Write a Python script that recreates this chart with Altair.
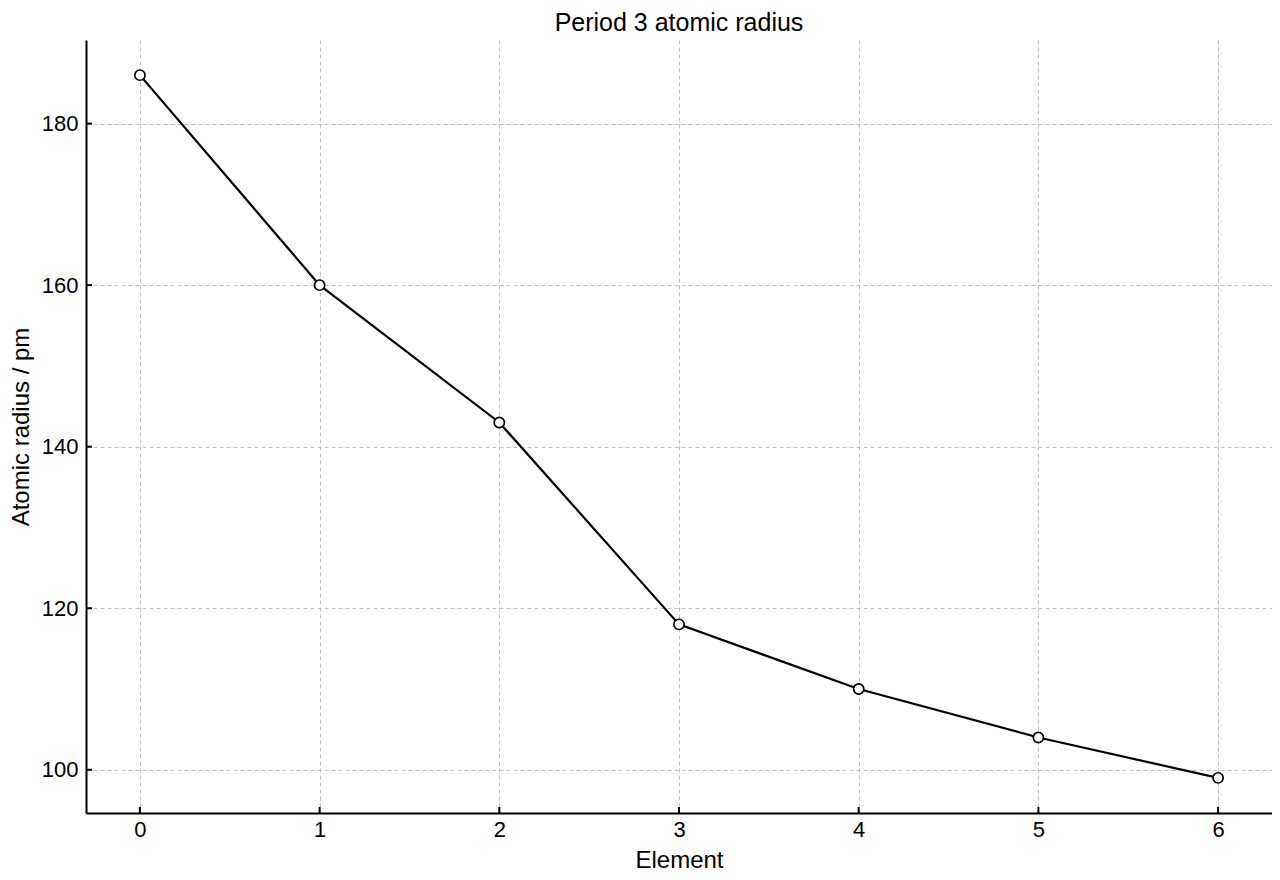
import altair as alt
import pandas as pd

elements = [0, 1, 2, 3, 4, 5, 6]
radius = [186, 160, 143, 118, 110, 104, 99]
x_ticks = [0, 1, 2, 3, 4, 5, 6]
y_ticks = [100, 120, 140, 160, 180]

df = pd.DataFrame({"Element": elements, "Radius": radius})
xt = pd.DataFrame({"t": x_ticks})
yt = pd.DataFrame({"t": y_ticks})

FONT = "Liberation Sans"
W, H = 1186, 773
xscale = alt.Scale(domain=[-0.3, 6.3], nice=False, zero=False)
yscale = alt.Scale(domain=[94.65, 190.35], nice=False, zero=False)

xaxis = alt.Axis(values=x_ticks, title="Element", labelPadding=6, titlePadding=8, format="d")
yaxis = alt.Axis(values=y_ticks, title="Atomic radius / pm", labelPadding=8, titlePadding=8, format="d")

base = alt.Chart(df)
line = base.mark_line(color="black", strokeWidth=2.2).encode(
    x=alt.X("Element:Q", scale=xscale, axis=xaxis),
    y=alt.Y("Radius:Q", scale=yscale, axis=yaxis),
)
pts = base.mark_point(filled=True, fill="white", stroke="black", strokeWidth=1.7,
                      size=105, opacity=1, shape="circle").encode(
    x=alt.X("Element:Q", scale=xscale, axis=xaxis),
    y=alt.Y("Radius:Q", scale=yscale, axis=yaxis),
)
xtick = alt.Chart(xt).mark_rule(color="black", strokeWidth=2).encode(
    x=alt.X("t:Q", scale=xscale, axis=xaxis),
    y=alt.value(H), y2=alt.value(H - 6),
)
ytick = alt.Chart(yt).mark_rule(color="black", strokeWidth=2).encode(
    y=alt.Y("t:Q", scale=yscale, axis=yaxis),
    x=alt.value(0), x2=alt.value(6),
)

chart = alt.layer(line, pts, xtick, ytick).properties(
    width=W, height=H,
    autosize=alt.AutoSizeParams(type="none"),
    padding={"left": 78, "top": 32, "right": 0, "bottom": 58},
    title=alt.Title("Period 3 atomic radius", fontSize=25, font=FONT,
                    fontWeight="normal", color="black", offset=4),
).configure_view(stroke=None).configure_axis(
    grid=True, gridColor="#b0b0b0", gridDash=[4, 3], gridWidth=0.8,
    tickSize=0, domainColor="black", domainWidth=2,
    labelFontSize=22, titleFontSize=24, titleFontWeight="normal",
    labelColor="black", titleColor="black", labelFont=FONT, titleFont=FONT,
)

chart.save("out.html", embed_options={"renderer": "svg", "actions": False})
